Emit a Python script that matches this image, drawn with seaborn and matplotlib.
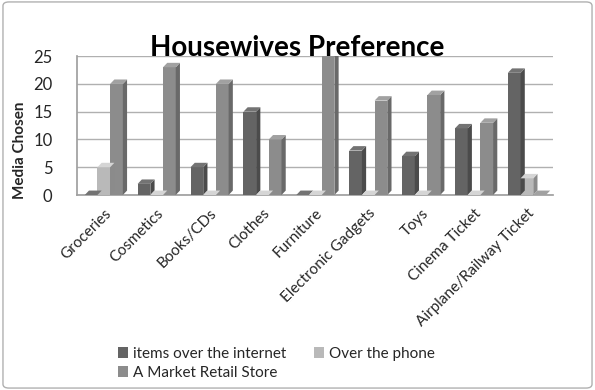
import matplotlib
matplotlib.use("Agg")
import matplotlib.pyplot as plt
import seaborn as sns
import pandas as pd
from matplotlib.patches import Polygon, FancyBboxPatch

categories = ["Groceries", "Cosmetics", "Books/CDs", "Clothes", "Furniture",
              "Electronic Gadgets", "Toys", "Cinema Ticket", "Airplane/Railway Ticket"]
internet = [0, 2, 5, 15, 0, 8, 7, 12, 22]
phone = [5, 0, 0, 0, 0, 0, 0, 0, 3]
store = [20, 23, 20, 10, 25, 17, 18, 13, 0]
series_names = ["items over the internet", "Over the phone", "A Market Retail Store"]
yticks = [0, 5, 10, 15, 20, 25]

rows = []
for i, c in enumerate(categories):
    for s, vals in zip(series_names, [internet, phone, store]):
        rows.append({"cat": c, "series": s, "value": vals[i]})
df = pd.DataFrame(rows)

sns.set_theme(style="white")
plt.rcParams["font.family"] = ["Lato", "DejaVu Sans"]

colors = ["#646464", "#b9b9b9", "#8c8c8c"]
fig = plt.figure(figsize=(5.95, 3.9), dpi=100)
ax = fig.add_axes([0.13, 0.5, 0.80, 0.356])

sns.barplot(data=df, x="cat", y="value", hue="series", palette=colors,
            width=0.72, ax=ax, saturation=1, linewidth=0, zorder=3)

# pseudo-3D faces
dx, dy = 0.08, 0.8
for p in list(ax.patches):
    x, y = p.get_x(), p.get_y()
    w, h = p.get_width(), p.get_height()
    fc = p.get_facecolor()
    side = tuple(max(0, v * 0.75) for v in fc[:3])
    top = tuple(min(1, v * 1.15) for v in fc[:3])
    ax.add_patch(Polygon([(x + w, y), (x + w + dx, y + dy), (x + w + dx, y + h + dy), (x + w, y + h)],
                         closed=True, facecolor=side, edgecolor="none", zorder=3))
    ax.add_patch(Polygon([(x, y + h), (x + dx, y + h + dy), (x + w + dx, y + h + dy), (x + w, y + h)],
                         closed=True, facecolor=top, edgecolor="none", zorder=3))

ax.set_ylim(0, 25)
ax.set_xlim(-0.5, len(categories) - 0.5)
ax.set_yticks(yticks)
ax.set_yticklabels([str(t) for t in yticks], fontsize=12)
ax.yaxis.grid(True, color="#b0b0b0", linewidth=1, zorder=0)
ax.set_xticks(range(len(categories)))
ax.set_xticklabels(categories, rotation=45, ha="right", rotation_mode="anchor", fontsize=11)
ax.tick_params(axis="x", length=0, pad=8)
ax.tick_params(axis="y", length=0, pad=18)
for s in ["top", "right"]:
    ax.spines[s].set_visible(False)
for s in ["left", "bottom"]:
    ax.spines[s].set_color("#a0a0a0")
ax.set_xlabel("")
ax.set_ylabel("Media Chosen", fontsize=11, fontweight="bold")
ax.yaxis.set_label_coords(-0.105, 0.32)

fig.text(0.5, 0.877, "Housewives Preference", ha="center", va="center",
         fontsize=20, fontweight="bold", color="black")

handles, labels = ax.get_legend_handles_labels()
ax.legend_.remove()
order = [0, 2, 1]
fig.legend([handles[i] for i in order], [labels[i] for i in order],
           loc="upper left", bbox_to_anchor=(0.185, 0.13), ncol=2,
           frameon=False, fontsize=11, handlelength=0.7, handleheight=0.7,
           handletextpad=0.3, columnspacing=1.8, labelspacing=0.3, borderpad=0)

fig.patches.append(FancyBboxPatch((0.005, 0.005), 0.99, 0.99, boxstyle="round,pad=0,rounding_size=0.01",
                                  transform=fig.transFigure, facecolor="none",
                                  edgecolor="#b0b0b0", linewidth=1))

fig.savefig("out.png", dpi=100)
